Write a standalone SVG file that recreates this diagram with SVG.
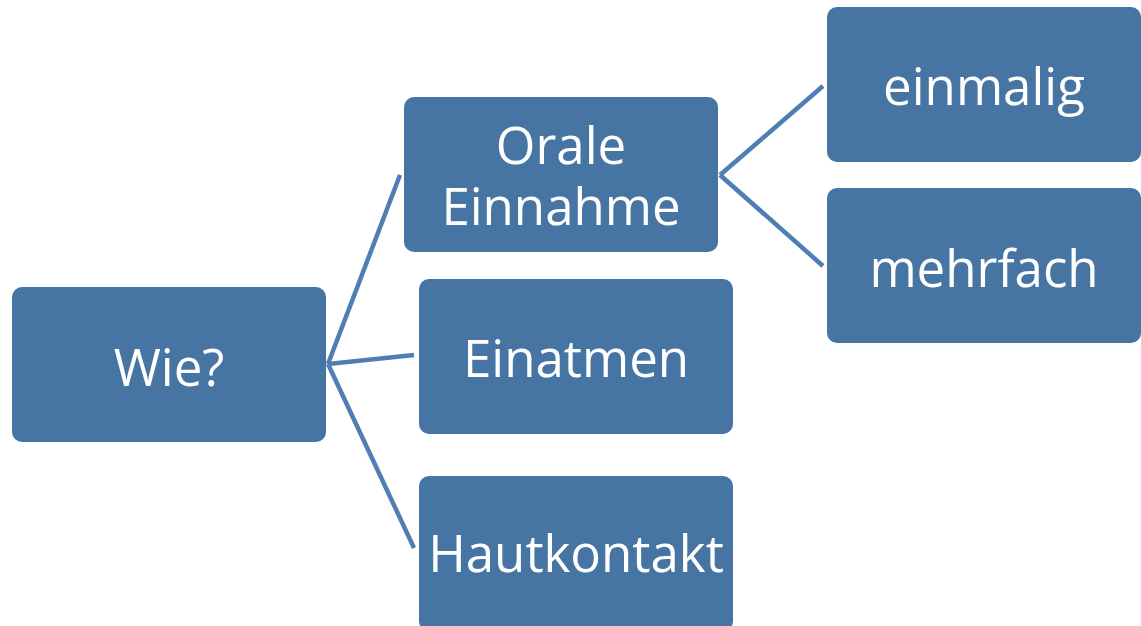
<svg xmlns="http://www.w3.org/2000/svg" width="1141" height="626" viewBox="0 0 1141 626">
<style>
.box{fill:#4674A3;}
.lbl{fill:#ffffff;font-family:"Open Sans","Noto Sans",sans-serif;font-size:51px;text-anchor:middle;}
.con{stroke:#4F7EB5;stroke-width:4.5;fill:none;}
</style>
<rect width="1141" height="626" fill="#ffffff"/>
<g id="connectors">
<line class="con" x1="328" y1="364" x2="400" y2="175"/>
<line class="con" x1="328" y1="364" x2="414" y2="355"/>
<line class="con" x1="328" y1="364" x2="414" y2="548"/>
<line class="con" x1="720" y1="175" x2="823" y2="86"/>
<line class="con" x1="720" y1="175" x2="823" y2="266"/>
</g>
<g id="wie"><rect class="box" x="12" y="287" width="314" height="155" rx="10"/><text class="lbl" x="169" y="386">Wie?</text></g>
<g id="orale"><rect class="box" x="404" y="97" width="314" height="155" rx="10"/><text class="lbl" x="561" y="164"><tspan x="561" y="164">Orale</tspan><tspan x="561" y="225">Einnahme</tspan></text></g>
<g id="einatmen"><rect class="box" x="419" y="279" width="314" height="155" rx="10"/><text class="lbl" x="576" y="377">Einatmen</text></g>
<g id="hautkontakt"><rect class="box" x="419" y="476" width="314" height="155" rx="10"/><text class="lbl" x="576" y="572">Hautkontakt</text></g>
<g id="einmalig"><rect class="box" x="827" y="7" width="314" height="155" rx="10"/><text class="lbl" x="984" y="105">einmalig</text></g>
<g id="mehrfach"><rect class="box" x="827" y="188" width="314" height="155" rx="10"/><text class="lbl" x="984" y="287">mehrfach</text></g>
</svg>
